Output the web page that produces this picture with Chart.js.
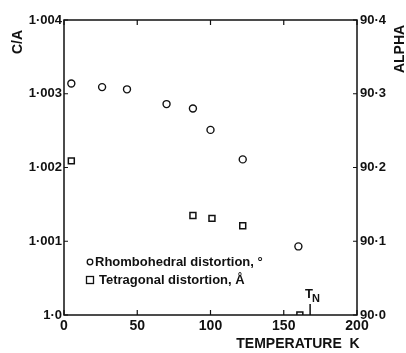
<!DOCTYPE html>
<html>
<head>
<meta charset="utf-8">
<script src="https://cdn.jsdelivr.net/npm/chart.js@4.4.1/dist/chart.umd.min.js"></script>
<style>
  html, body { margin: 0; padding: 0; background: #fff; }
  #wrap { width: 406px; height: 353px; }
</style>
</head>
<body>
<div id="wrap"><canvas id="chart" width="406" height="353"></canvas></div>
<script>
// Rhombohedral (alpha, right axis) and tetragonal (c/a, left axis) distortion vs temperature
const rhombTemp = [5, 26, 43, 70, 88, 100, 122, 160];
const rhombAlpha = [90.314, 90.309, 90.306, 90.286, 90.280, 90.251, 90.211, 90.093];
const tetraTemp = [5, 88, 101, 122, 161];
const tetraCA = [1.00209, 1.00135, 1.00131, 1.00121, 1.0000];
const xTicks = [0, 50, 100, 150, 200];
const caTicks = [1.0, 1.001, 1.002, 1.003, 1.004];
const caLabels = ['1·0', '1·001', '1·002', '1·003', '1·004'];
const alphaTicks = [90.0, 90.1, 90.2, 90.3, 90.4];
const alphaLabels = ['90·0', '90·1', '90·2', '90·3', '90·4'];
const neelTemp = 168;

const ink = '#111';
const fontFam = '"Liberation Sans", Arial, sans-serif';

function toPoints(xs, ys) {
    return xs.map((x, i) => ({ x: x, y: ys[i] }));
}

// frame, inward ticks, axis titles, T_N marker and legend
const decorations = {
    id: 'decorations',
    afterDraw(chart) {
        const ctx = chart.ctx;
        const a = chart.chartArea;
        const sx = chart.scales.x, sy = chart.scales.y, sy2 = chart.scales.y2;
        ctx.save();
        ctx.strokeStyle = ink;
        ctx.lineWidth = 1.5;
        ctx.strokeRect(a.left, a.top, a.right - a.left, a.bottom - a.top);

        ctx.lineWidth = 1.2;
        ctx.beginPath();
        xTicks.forEach(v => {
            const px = sx.getPixelForValue(v);
            ctx.moveTo(px, a.bottom); ctx.lineTo(px, a.bottom - 5);
            ctx.moveTo(px, a.top); ctx.lineTo(px, a.top + 5);
        });
        caTicks.forEach(v => {
            const py = sy.getPixelForValue(v);
            ctx.moveTo(a.left, py); ctx.lineTo(a.left + 4, py);
        });
        alphaTicks.forEach(v => {
            const py = sy2.getPixelForValue(v);
            ctx.moveTo(a.right, py); ctx.lineTo(a.right - 4, py);
        });
        ctx.stroke();

        // T_N marker
        const tn = sx.getPixelForValue(neelTemp);
        ctx.lineWidth = 1.5;
        ctx.beginPath();
        ctx.moveTo(tn, a.bottom); ctx.lineTo(tn, a.bottom - 11);
        ctx.stroke();
        ctx.fillStyle = ink;
        ctx.textBaseline = 'alphabetic';
        ctx.textAlign = 'left';
        ctx.font = 'bold 13px ' + fontFam;
        ctx.fillText('T', tn - 5, a.bottom - 17);
        ctx.font = 'bold 11px ' + fontFam;
        ctx.fillText('N', tn + 2, a.bottom - 13);

        // axis titles
        ctx.font = 'bold 14px ' + fontFam;
        ctx.textAlign = 'center';
        ctx.textBaseline = 'middle';
        ctx.save();
        ctx.translate(18, 42);
        ctx.rotate(-Math.PI / 2);
        ctx.fillText('C/A', 0, 0);
        ctx.restore();
        ctx.save();
        ctx.translate(400, 49);
        ctx.rotate(-Math.PI / 2);
        ctx.fillText('ALPHA', 0, 0);
        ctx.restore();
        ctx.fillText('TEMPERATURE  K', 298, 344);

        // legend
        ctx.font = 'bold 13px ' + fontFam;
        ctx.textAlign = 'left';
        const lx = a.left + 26, ly1 = a.bottom - 53, ly2 = a.bottom - 35;
        ctx.lineWidth = 1.3;
        ctx.beginPath();
        ctx.arc(lx, ly1, 2.8, 0, Math.PI * 2);
        ctx.stroke();
        ctx.fillText('Rhombohedral distortion, °', lx + 5, ly1);
        ctx.strokeRect(lx - 3.5, ly2 - 3.5, 7, 7);
        ctx.fillText('Tetragonal distortion, Å', lx + 9, ly2);
        ctx.restore();
    }
};

new Chart(document.getElementById('chart'), {
    type: 'scatter',
    data: {
        datasets: [{
            label: 'Rhombohedral distortion',
            data: toPoints(rhombTemp, rhombAlpha),
            yAxisID: 'y2',
            pointStyle: 'circle',
            pointRadius: 3.5,
            borderColor: ink,
            backgroundColor: 'rgba(0,0,0,0)',
            borderWidth: 1.4
        }, {
            label: 'Tetragonal distortion',
            data: toPoints(tetraTemp, tetraCA),
            yAxisID: 'y',
            pointStyle: 'rect',
            pointRadius: 4.2,
            borderColor: ink,
            backgroundColor: 'rgba(0,0,0,0)',
            borderWidth: 1.5
        }]
    },
    options: {
        responsive: false,
        animation: false,
        layout: { padding: { top: 20, right: 0, left: 0, bottom: 0 } },
        plugins: { legend: { display: false }, tooltip: { enabled: false } },
        scales: {
            x: {
                type: 'linear', min: 0, max: 200,
                afterBuildTicks: s => { s.ticks = xTicks.map(v => ({ value: v })); },
                afterFit: s => { s.height = 38; },
                grid: { display: false, drawTicks: false },
                border: { display: false },
                ticks: { color: ink, padding: 3, maxRotation: 0, font: { family: fontFam, size: 14, weight: 'bold' } }
            },
            y: {
                type: 'linear', position: 'left', min: 1.0, max: 1.004,
                afterBuildTicks: s => { s.ticks = caTicks.map(v => ({ value: v })); },
                afterFit: s => { s.width = 64; },
                grid: { display: false, drawTicks: false },
                border: { display: false },
                ticks: {
                    color: ink, padding: 2, font: { family: fontFam, size: 13, weight: 'bold' },
                    callback: (v, i) => caLabels[i]
                }
            },
            y2: {
                type: 'linear', position: 'right', min: 90.0, max: 90.4,
                afterBuildTicks: s => { s.ticks = alphaTicks.map(v => ({ value: v })); },
                afterFit: s => { s.width = 49; },
                grid: { display: false, drawTicks: false },
                border: { display: false },
                ticks: {
                    color: ink, padding: 3, font: { family: fontFam, size: 13, weight: 'bold' },
                    callback: (v, i) => alphaLabels[i]
                }
            }
        }
    },
    plugins: [decorations]
});
</script>
</body>
</html>
